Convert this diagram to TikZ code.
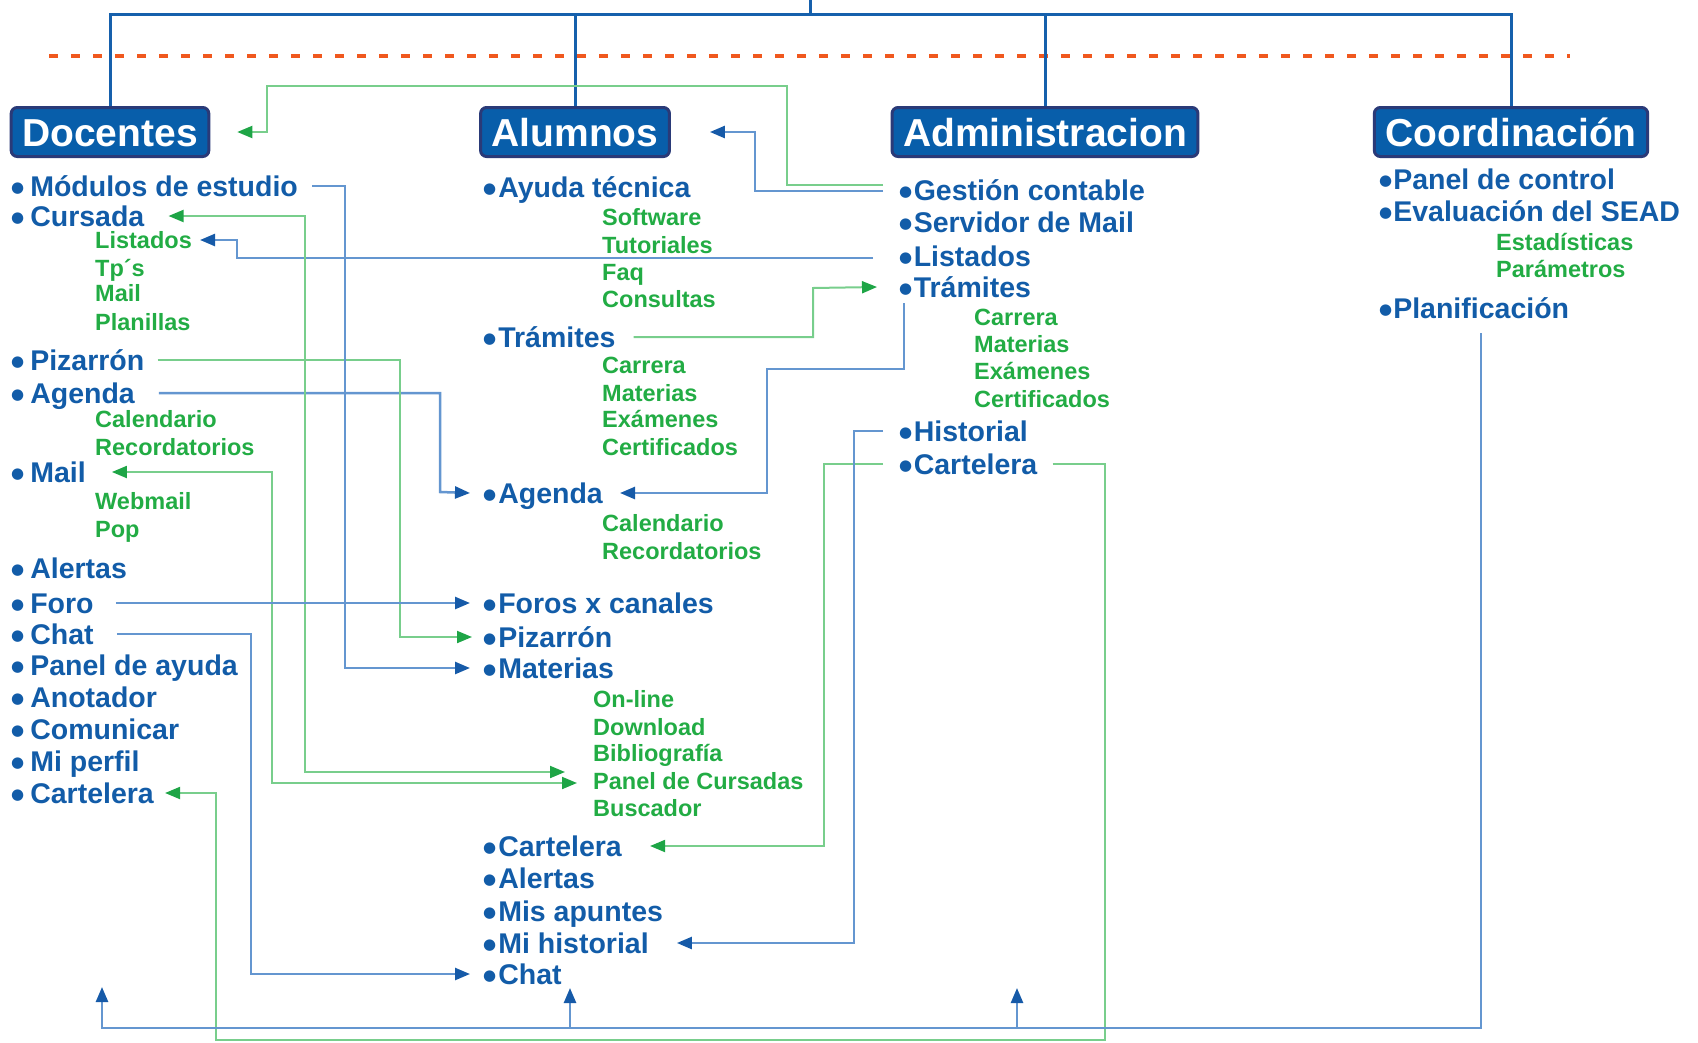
\documentclass[tikz,border=0pt]{standalone}
\usepackage{fontspec}
\setmainfont{Liberation Sans}
\newfontfamily\dotfont{DejaVu Sans}
\usetikzlibrary{arrows.meta,calc}

\definecolor{txtblue}{RGB}{18,92,168}
\definecolor{txtgreen}{RGB}{34,172,68}
\definecolor{boxblue}{RGB}{8,94,170}
\definecolor{boxedge}{RGB}{42,58,120}
\definecolor{treeblue}{RGB}{22,96,172}
\definecolor{linkblue}{RGB}{100,150,208}
\definecolor{tipblue}{RGB}{22,90,168}
\definecolor{linkgreen}{RGB}{120,206,140}
\definecolor{tipgreen}{RGB}{30,165,70}
\definecolor{cutorange}{RGB}{240,88,30}

\newcommand{\bull}[1][4pt]{\raisebox{4pt}{\dotfont\fontsize{15}{15}\selectfont ●}\kern#1}

\tikzset{
	rolebox/.style={fill=boxblue, draw=boxedge, line width=3pt, rounded corners=6pt,
		text=white, font=\bfseries\fontsize{39}{40}\selectfont,
		minimum height=49pt, inner xsep=11pt, text height=28pt, text depth=0pt},
	entry/.style={anchor=west, inner sep=0pt, text=txtblue,
		font=\bfseries\fontsize{28.5}{30}\selectfont, text height=20pt, text depth=0pt},
	subentry/.style={anchor=west, inner sep=0pt, text=txtgreen,
		font=\bfseries\fontsize{23.5}{25}\selectfont, text height=17pt, text depth=0pt},
	tree/.style={draw=treeblue, line width=3pt},
	bline/.style={draw=linkblue, line width=2.5pt, >={Triangle[length=15pt,width=12pt,color=tipblue]}},
	gline/.style={draw=linkgreen, line width=2pt, >={Triangle[length=15pt,width=12pt,color=tipgreen]}}
}

\begin{document}
\begin{tikzpicture}[x=1pt,y=-1pt]
	\useasboundingbox (0,0) rectangle (1698,1042);

	% cut line
	\draw[cutorange, line width=4pt, dash pattern=on 9pt off 13pt] (49,56) -- (1570,56);

	% heads
	\node[rolebox] (doc) at (110,132) {Docentes};
	\node[rolebox] (alu) at (575,132) {Alumnos};
	\node[rolebox] (adm) at (1045,132) {Administracion};
	\node[rolebox] (coo) at (1511,132) {Coordinación};

	\coordinate (root) at (810,14);
	\draw[tree] (doc.north) |- (root) -| (coo.north);
	\draw[tree] (alu.north) -- (alu.north |- root);
	\draw[tree] (adm.north) -- (adm.north |- root);
	\draw[tree] (root) -- (810,-2);

	% Docentes
	\node[entry] (dMod) at (11,186) {\bull[6pt]Módulos de estudio};
	\node[entry] (dCur) at (11,216) {\bull[6pt]Cursada};
	\node[subentry] (dLis) at (95,240) {Listados};
	\node[subentry] (dTps) at (95,268) {Tp´s};
	\node[subentry] (dMai) at (95,293) {Mail};
	\node[subentry] (dPla) at (95,322) {Planillas};
	\node[entry] (dPiz) at (11,360) {\bull[6pt]Pizarrón};
	\node[entry] (dAge) at (11,393) {\bull[6pt]Agenda};
	\node[subentry] (dCal) at (95,419) {Calendario};
	\node[subentry] (dRec) at (95,447) {Recordatorios};
	\node[entry] (dMail) at (11,472) {\bull[6pt]Mail};
	\node[subentry] (dWeb) at (95,501) {Webmail};
	\node[subentry] (dPop) at (95,529) {Pop};
	\node[entry] (dAle) at (11,568) {\bull[6pt]Alertas};
	\node[entry] (dFor) at (11,603) {\bull[6pt]Foro};
	\node[entry] (dCha) at (11,634) {\bull[6pt]Chat};
	\node[entry] (dPan) at (11,665) {\bull[6pt]Panel de ayuda};
	\node[entry] (dAno) at (11,697) {\bull[6pt]Anotador};
	\node[entry] (dCom) at (11,729) {\bull[6pt]Comunicar};
	\node[entry] (dPer) at (11,761) {\bull[6pt]Mi perfil};
	\node[entry] (dCar) at (11,793) {\bull[6pt]Cartelera};

	% Alumnos
	\node[entry] (aAyu) at (483,187) {\bull[2pt]Ayuda técnica};
	\node[subentry] (aSof) at (602,217) {Software};
	\node[subentry] (aTut) at (602,245) {Tutoriales};
	\node[subentry] (aFaq) at (602,272) {Faq};
	\node[subentry] (aCon) at (602,299) {Consultas};
	\node[entry] (aTra) at (483,337) {\bull[2pt]Trámites};
	\node[subentry] (aCarr) at (602,365) {Carrera};
	\node[subentry] (aMat) at (602,393) {Materias};
	\node[subentry] (aExa) at (602,419) {Exámenes};
	\node[subentry] (aCer) at (602,447) {Certificados};
	\node[entry] (aAge) at (483,493) {\bull[2pt]Agenda};
	\node[subentry] (aCal) at (602,523) {Calendario};
	\node[subentry] (aRec) at (602,551) {Recordatorios};
	\node[entry] (aFor) at (483,603) {\bull[2pt]Foros x canales};
	\node[entry] (aPiz) at (483,637) {\bull[2pt]Pizarrón};
	\node[entry] (aMate) at (483,668) {\bull[2pt]Materias};
	\node[subentry] (aOnl) at (593,699) {On-line};
	\node[subentry] (aDow) at (593,727) {Download};
	\node[subentry] (aBib) at (593,753) {Bibliografía};
	\node[subentry] (aPCu) at (593,781) {Panel de Cursadas};
	\node[subentry] (aBus) at (593,808) {Buscador};
	\node[entry] (aCar) at (483,846) {\bull[2pt]Cartelera};
	\node[entry] (aAle) at (483,878) {\bull[2pt]Alertas};
	\node[entry] (aApu) at (483,911) {\bull[2pt]Mis apuntes};
	\node[entry] (aHis) at (483,943) {\bull[2pt]Mi historial};
	\node[entry] (aCha) at (483,974) {\bull[2pt]Chat};

	% Administracion
	\node[entry] (mGes) at (899,190) {\bull[1.5pt]Gestión contable};
	\node[entry] (mSer) at (899,222) {\bull[1.5pt]Servidor de Mail};
	\node[entry] (mLis) at (899,256) {\bull[1.5pt]Listados};
	\node[entry] (mTra) at (899,287) {\bull[1.5pt]Trámites};
	\node[subentry] (mCarr) at (974,317) {Carrera};
	\node[subentry] (mMat) at (974,344) {Materias};
	\node[subentry] (mExa) at (974,371) {Exámenes};
	\node[subentry] (mCer) at (974,399) {Certificados};
	\node[entry] (mHis) at (899,431) {\bull[1.5pt]Historial};
	\node[entry] (mCar) at (899,464) {\bull[1.5pt]Cartelera};

	% Coordinacion
	\node[entry] (cPan) at (1379,179) {\bull[1pt]Panel de control};
	\node[entry] (cEva) at (1379,211) {\bull[1pt]Evaluación del SEAD};
	\node[subentry] (cEst) at (1496,242) {Estadísticas};
	\node[subentry] (cPar) at (1496,269) {Parámetros};
	\node[entry] (cPla) at (1379,308) {\bull[1pt]Planificación};

	% links
	\draw[gline,->] ($(mGes.west)+(-16,-5)$) -| (787,86) -| ($(doc.east)+(57,0)$) -- ($(doc.east)+(27,0)$);
	\draw[bline,->] ($(mGes.west)+(-16,1)$) -| ($(alu.east)+(84,0)$) -- ($(alu.east)+(39,0)$);
	\draw[bline,->] ($(mLis.west)+(-26,2)$) -| (237,240) -- ($(dLis.east)+(8,0)$);
	\draw[gline,->] ($(aTra.east)+(18,0)$) -| (813,288) -- ($(mTra.west)+(-22,0)$);
	\draw[bline,->] ($(mTra.west)+(5,16)$) |- (767,369) |- ($(aAge.east)+(17,0)$);
	\draw[bline,->] ($(dAge.east)+(24,0)$) -| (440,492) -- ($(aAge.west)+(-13,0)$);
	\draw[gline,->] ($(dPiz.east)+(13,0)$) -| (400,637) -- ($(aPiz.west)+(-11,0)$);
	\draw[bline,->] ($(dMod.east)+(14,0)$) -| (345,668) -- ($(aMate.west)+(-13,0)$);
	\draw[gline,<->] ($(dCur.east)+(24,0)$) -| (305,772) -- ($(aPCu.west)+(-28,-9)$);
	\draw[gline,<->] ($(dMail.east)+(26,0)$) -| (272,783) -- ($(aPCu.west)+(-16,2)$);
	\draw[bline,->] ($(dFor.east)+(22,0)$) -- ($(aFor.west)+(-13,0)$);
	\draw[bline,->] ($(dCha.east)+(23,0)$) -| (251,974) -- ($(aCha.west)+(-13,0)$);
	\draw[gline,->] ($(mCar.west)+(-16,0)$) -| (824,846) -- ($(aCar.east)+(28,0)$);
	\draw[bline,->] ($(mHis.west)+(-16,0)$) -| (854,943) -- ($(aHis.east)+(28,0)$);
	\draw[gline,->] ($(mCar.east)+(15,0)$) -| (1105,1040) -| (216,793) -- ($(dCar.east)+(11,0)$);

	% planificacion back to the columns
	\coordinate (toDoc) at (102,987);
	\coordinate (toAlu) at (570,988);
	\coordinate (toAdm) at (1017,988);
	\draw[bline,->] ($(cPla.west)+(102,25)$) |- (102,1028) -- (toDoc);
	\draw[bline,->] (570,1028) -- (toAlu);
	\draw[bline,->] (1017,1028) -- (toAdm);
\end{tikzpicture}
\end{document}
